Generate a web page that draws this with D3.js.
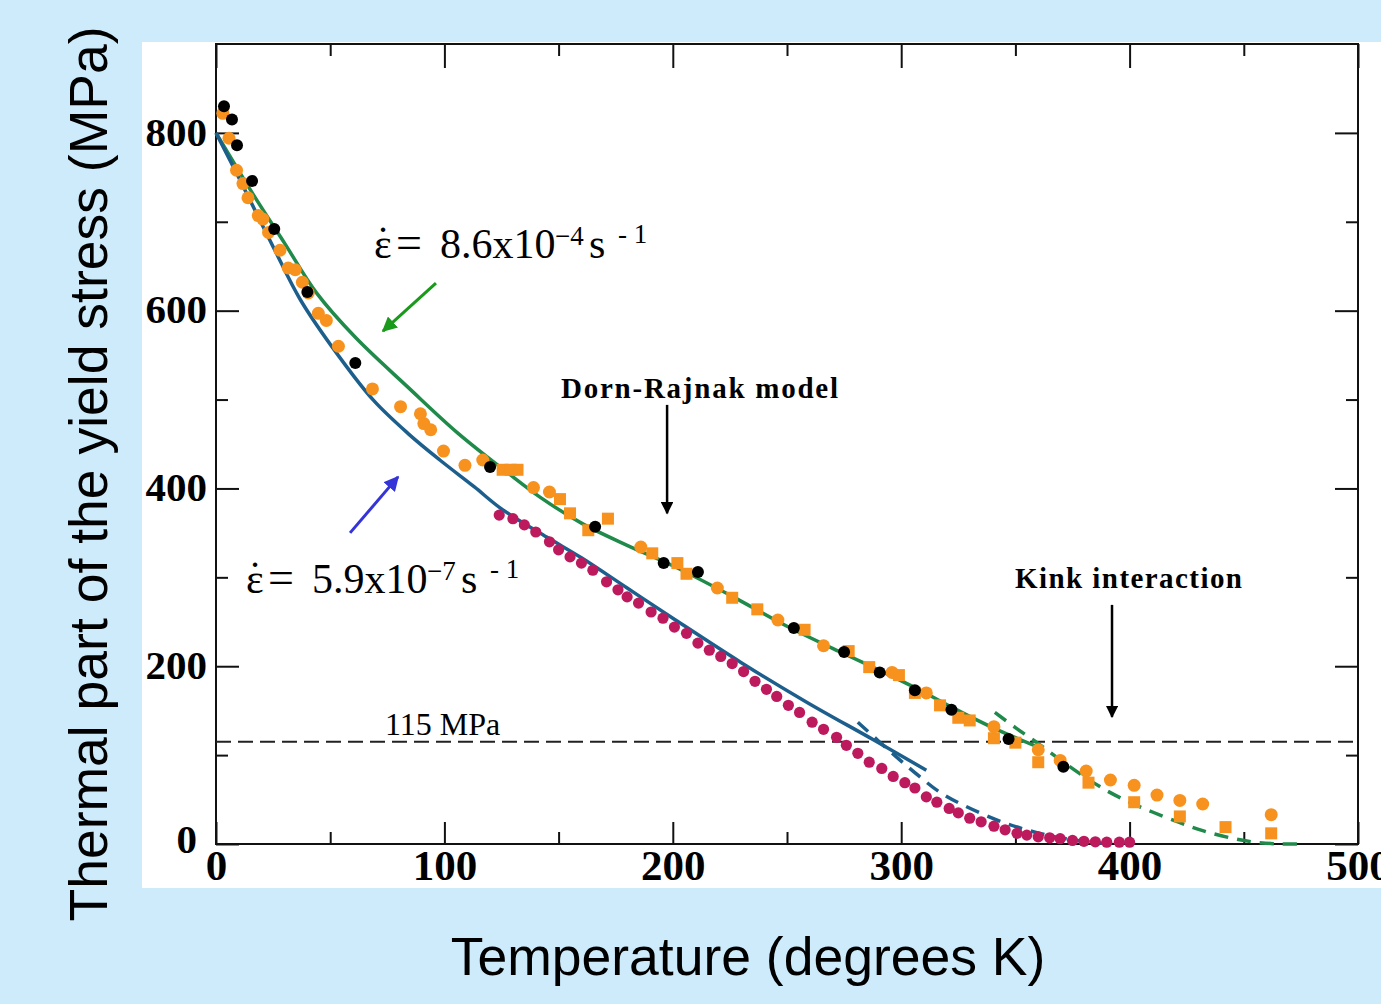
<!DOCTYPE html>
<html>
<head>
<meta charset="utf-8">
<script src="https://cdn.jsdelivr.net/npm/d3@7"></script>
<style>
  html, body { margin: 0; padding: 0; background: #cdebfb; }
  svg { display: block; }
</style>
</head>
<body>
<div id="chart"></div>
<script>
// ticks
const tempTicks = [0, 100, 200, 300, 400, 500];
const tempMinor = [50, 150, 250, 350, 450];
const stressTicks = [0, 200, 400, 600, 800];
const stressMinor = [100, 300, 500, 700];

// measured points, strain rate 8.6e-4 (black)
const blackT = [3.5, 7, 9.2, 15.8, 25.5, 40, 61, 120, 166, 196, 211, 253, 275, 290.6, 306, 322, 347, 371];
const blackS = [830, 815, 786, 746, 692, 621, 541, 424, 357, 316, 306, 243, 216, 193, 173, 151, 118, 87];

// orange circles
const orangeCircT = [3, 5.7, 9, 11.8, 14, 18.5, 20.5, 23, 28, 31.6, 34.7, 37.8, 40.4, 44.8, 48.3, 53.6, 68.5, 80.8, 89.5, 91, 94, 99.6, 109, 116.8, 139, 146, 186, 219.5, 246, 266, 296, 311, 340.6, 360, 369.6, 381, 391.6, 402, 412, 422, 432, 462];
const orangeCircS = [822, 794, 758, 743, 727, 707, 703, 688, 668, 648, 646, 632, 620, 597, 589, 560, 512, 492, 484, 473, 466, 442, 426, 432, 401, 396, 334, 288, 252, 223, 193, 170, 132, 106, 94, 82, 72, 66, 55, 49, 45, 33];

// orange squares
const orangeSqT = [125.5, 129, 132, 150.6, 155, 163, 171.6, 191, 202, 206, 226, 237, 257.7, 277, 286, 299, 306, 317, 325, 330, 340.6, 350, 360, 382, 402, 422, 442, 462];
const orangeSqS = [421, 421, 421, 388, 372, 353, 366, 327, 316, 304, 277, 264, 241, 217, 199, 190, 170, 156, 142, 139, 119, 114, 92, 69, 47, 31, 19, 12];

// strain rate 5.9e-7 (magenta)
const slowT = [124, 130, 135, 140, 146, 150, 155, 160, 165, 171, 176, 180, 185, 190.5, 195.7, 200.7, 206, 211, 216, 221, 226, 231, 236, 241, 245.5, 250.6, 255.5, 261, 266, 271.7, 276, 281, 286, 291.5, 296.5, 301.6, 306, 311, 315.6, 321, 325, 330, 335, 340.6, 345.5, 350.7, 355, 360, 365, 369.6, 375, 380, 385, 390, 395.5, 400];
const slowS = [370, 366, 359, 351, 340, 331, 323, 316, 308, 295, 286, 278, 271, 261, 254, 244, 237, 226, 218, 211, 203, 194, 183, 174, 166, 156, 148, 137, 129, 120, 111, 102, 92, 85, 76, 69, 63, 53, 47, 40, 35, 29, 25, 20, 16, 12, 10, 8, 7, 6, 4, 3, 2.5, 2, 2, 2];

// Dorn-Rajnak fits
const greenFitT = [0, 16, 30, 44, 61, 84, 106, 128, 142, 160, 180, 200, 225, 250, 275, 290, 306, 322, 340, 362];
const greenFitS = [800, 732, 676, 620, 570, 514, 462, 417, 390, 361, 336, 313, 280, 245, 214, 196, 176, 154, 131, 107];
const blueFitT = [0, 10.5, 25, 37, 54, 69, 84, 98, 113, 125, 145, 160, 180, 200, 230, 259, 288, 311];
const blueFitS = [800, 747, 672, 612, 548, 499, 462, 432, 402, 377, 345, 322, 288, 254, 204, 159, 117, 83];

// kink interaction fits (dashed)
const greenKinkT = [341, 350, 360, 370, 380, 390, 400, 410, 422, 432, 444, 455, 467, 475];
const greenKinkS = [148, 131, 113, 94, 76, 60, 47, 36, 24, 15, 7, 2, 0, 0];
const blueKinkT = [281, 297, 308, 316.5, 327, 344, 359, 372, 385, 392];
const blueKinkS = [137, 100, 76, 59, 44, 25, 13, 6, 1.5, 0];

const refStress = 115;

const W = 1381, H = 1004;
const svg = d3.select('#chart').append('svg').attr('width', W).attr('height', H);
svg.append('rect').attr('width', W).attr('height', H).attr('fill', '#cdebfb');
svg.append('rect').attr('x', 142).attr('y', 42).attr('width', W - 142).attr('height', 846).attr('fill', '#fff');

const x = d3.scaleLinear().domain([0, 500]).range([216, 1358]);
const y = d3.scaleLinear().domain([0, 900]).range([844, 44]);

const zip = (a, b) => a.map((v, i) => [v, b[i]]);
const line = d3.line().x(d => x(d[0])).y(d => y(d[1])).curve(d3.curveCatmullRom.alpha(0.5));

// axes
const serif = 'Liberation Serif, Times New Roman, serif';
const sans = 'Liberation Sans, Arial, sans-serif';

function axis(gen, tf, vals, size, labels) {
  const g = svg.append('g').attr('transform', tf)
    .call(gen.tickValues(vals).tickSizeInner(-size).tickSizeOuter(0)
      .tickFormat(labels ? d3.format('d') : () => ''));
  g.select('.domain').remove();
  g.selectAll('.tick line').attr('stroke', '#111').attr('stroke-width', 2);
  return g;
}
const xb = axis(d3.axisBottom(x), 'translate(0,844)', tempTicks, 22, true);
axis(d3.axisBottom(x), 'translate(0,844)', tempMinor, 12, false);
axis(d3.axisTop(x), 'translate(0,44)', tempTicks, 24, false);
axis(d3.axisTop(x), 'translate(0,44)', tempMinor, 12, false);
const yl = axis(d3.axisLeft(y), 'translate(216,0)', stressTicks, 23, true);
axis(d3.axisLeft(y), 'translate(216,0)', stressMinor, 12, false);
axis(d3.axisRight(y), 'translate(1358,0)', stressTicks, 23, false);
axis(d3.axisRight(y), 'translate(1358,0)', stressMinor, 12, false);

xb.selectAll('.tick text')
  .attr('y', 36).attr('dy', 0)
  .attr('font-family', serif).attr('font-weight', 'bold').attr('font-size', 43).attr('fill', '#000');
yl.selectAll('.tick text')
  .attr('x', -9).attr('dy', '0.3em')
  .attr('font-family', serif).attr('font-weight', 'bold').attr('font-size', 41).attr('fill', '#000');
yl.selectAll('.tick text').filter(d => d === 0).attr('x', -19).attr('dy', '0.2em');

svg.append('rect').attr('x', 216).attr('y', 44).attr('width', 1358 - 216).attr('height', 800)
  .attr('fill', 'none').attr('stroke', '#111').attr('stroke-width', 2);

// 115 MPa reference
svg.append('line').attr('x1', x(0)).attr('x2', x(500)).attr('y1', y(refStress)).attr('y2', y(refStress))
  .attr('stroke', '#222').attr('stroke-width', 2).attr('stroke-dasharray', '15,7');
svg.append('text').attr('x', 385).attr('y', 735).attr('font-family', serif).attr('font-size', 32)
  .text('115 MPa');

// curves
const green = '#1f8a4a', blue = '#1d5f8c';
svg.append('path').attr('d', line(zip(greenFitT, greenFitS))).attr('fill', 'none')
  .attr('stroke', green).attr('stroke-width', 3.5);
svg.append('path').attr('d', line(zip(blueFitT, blueFitS))).attr('fill', 'none')
  .attr('stroke', blue).attr('stroke-width', 3.5);
svg.append('path').attr('d', line(zip(greenKinkT, greenKinkS))).attr('fill', 'none')
  .attr('stroke', green).attr('stroke-width', 3.5).attr('stroke-dasharray', '14,9');
svg.append('path').attr('d', line(zip(blueKinkT, blueKinkS))).attr('fill', 'none')
  .attr('stroke', blue).attr('stroke-width', 3.5).attr('stroke-dasharray', '14,9');

// points
const orange = '#f7921e';
svg.append('g').selectAll('rect').data(zip(orangeSqT, orangeSqS)).join('rect')
  .attr('x', d => x(d[0]) - 6).attr('y', d => y(d[1]) - 6).attr('width', 12).attr('height', 12)
  .attr('fill', orange);
svg.append('g').selectAll('circle').data(zip(orangeCircT, orangeCircS)).join('circle')
  .attr('cx', d => x(d[0])).attr('cy', d => y(d[1])).attr('r', 6.5).attr('fill', orange);
svg.append('g').selectAll('circle').data(zip(blackT, blackS)).join('circle')
  .attr('cx', d => x(d[0])).attr('cy', d => y(d[1])).attr('r', 6).attr('fill', '#000');
svg.append('g').selectAll('circle').data(zip(slowT, slowS)).join('circle')
  .attr('cx', d => x(d[0])).attr('cy', d => y(d[1])).attr('r', 5.6).attr('fill', '#bd1a5e');

// arrows
const defs = svg.append('defs');
function arrow(id, color) {
  defs.append('marker').attr('id', id).attr('viewBox', '0 0 10 10').attr('refX', 9).attr('refY', 5)
    .attr('markerWidth', 5).attr('markerHeight', 5).attr('orient', 'auto-start-reverse')
    .attr('markerUnits', 'strokeWidth')
    .append('path').attr('d', 'M0,0 L10,5 L0,10 z').attr('fill', color);
}
arrow('ag', '#1a9a1a'); arrow('ab', '#3434d8'); arrow('ak', '#000');
function drawArrow(t1, s1, t2, s2, color, id, w) {
  svg.append('line').attr('x1', x(t1)).attr('y1', y(s1)).attr('x2', x(t2)).attr('y2', y(s2))
    .attr('stroke', color).attr('stroke-width', w).attr('marker-end', `url(#${id})`);
}
drawArrow(96.3, 631, 73.1, 577, '#1a9a1a', 'ag', 3);
drawArrow(58.7, 350, 79.7, 413, '#3434d8', 'ab', 3);
drawArrow(197.5, 494, 197.5, 372, '#000', 'ak', 2.5);
drawArrow(392.3, 269, 392.3, 143, '#000', 'ak', 2.5);

svg.append('text').attr('x', 561).attr('y', 398).attr('font-family', serif).attr('font-size', 29)
  .attr('font-weight', 'bold').attr('textLength', 277).text('Dorn-Rajnak model');
svg.append('text').attr('x', 1015).attr('y', 588).attr('font-family', serif).attr('font-size', 29)
  .attr('font-weight', 'bold').attr('textLength', 227).text('Kink interaction');

// strain-rate labels
function rateLabel(x0, base, mant, expo) {
  const g = svg.append('g').attr('font-family', serif).attr('fill', '#000');
  g.append('text').attr('x', x0).attr('y', base).attr('font-size', 42).text('ε');
  g.append('text').attr('x', x0 + 9).attr('y', base - 2).attr('font-size', 42).attr('text-anchor', 'middle').text('˙');
  g.append('text').attr('x', x0 + 22).attr('y', base).attr('font-size', 46).text('=');
  g.append('text').attr('x', x0 + 66).attr('y', base).attr('font-size', 42).text(mant);
  g.append('text').attr('x', x0 + 181).attr('y', base - 13).attr('font-size', 27).text('−' + expo);
  g.append('text').attr('x', x0 + 215).attr('y', base).attr('font-size', 42).text('s');
  g.append('text').attr('x', x0 + 244).attr('y', base - 15).attr('font-size', 27).text('- 1');
}
rateLabel(374, 258, '8.6x10', '4');
rateLabel(246, 593, '5.9x10', '7');

// axis titles
svg.append('text').attr('x', 748).attr('y', 975).attr('text-anchor', 'middle')
  .attr('font-family', sans).attr('font-size', 53.5).text('Temperature (degrees K)');
svg.append('text').attr('transform', 'translate(107,474) rotate(-90)').attr('text-anchor', 'middle')
  .attr('font-family', sans).attr('font-size', 53.5).text('Thermal part of the yield stress (MPa)');
</script>
</body>
</html>
